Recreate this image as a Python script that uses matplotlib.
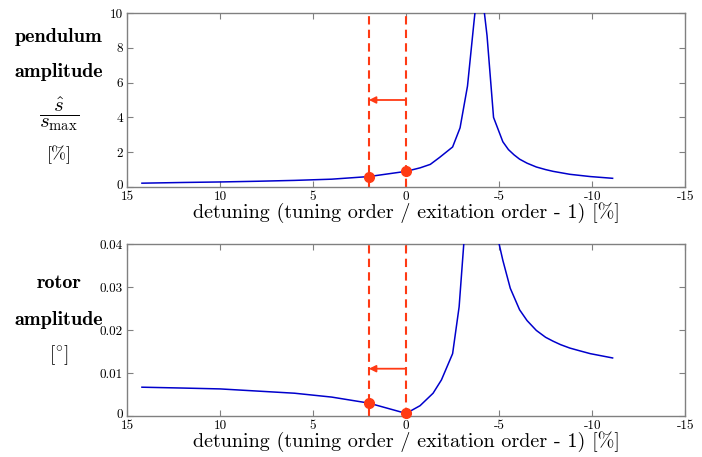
import matplotlib
matplotlib.use("Agg")
import matplotlib.pyplot as plt
from matplotlib.transforms import ScaledTranslation
import numpy as np

plt.rcParams['font.family'] = 'serif'
plt.rcParams['font.serif'] = ['cmr10', 'DejaVu Serif']
plt.rcParams['mathtext.fontset'] = 'cm'
plt.rcParams['axes.unicode_minus'] = False
plt.rcParams['axes.formatter.use_mathtext'] = True

# ---- data ----
pend_x = [14.2, 12, 10, 8, 6, 4, 2, 0, -0.75, -1.3, -1.8, -2.5, -2.9, -3.3,
          -3.65, -3.9, -4.1, -4.35, -4.7, -5.2, -5.5, -5.8, -6.1, -6.5, -7.0,
          -7.5, -7.9, -8.8, -9.9, -11.1]
pend_y = [0.22, 0.26, 0.29, 0.33, 0.38, 0.45, 0.6, 0.9, 1.1, 1.3, 1.7, 2.3, 3.4, 5.8,
          9.5, 12.0, 11.0, 8.7, 4.0, 2.6, 2.15, 1.85, 1.6, 1.37, 1.15,
          1.0, 0.9, 0.73, 0.6, 0.5]

rotor_x = [14.2, 12, 10, 8, 6, 4, 2, 1, 0, -0.75, -1.45, -1.9, -2.5, -2.85, -3.1,
           -3.5, -4.0, -4.5, -5.0, -5.2, -5.6, -6.1, -6.5, -7.0, -7.5, -7.9,
           -8.3, -8.8, -9.3, -9.9, -10.5, -11.1]
rotor_y = [0.0067, 0.0065, 0.0063, 0.0058, 0.0053, 0.0044, 0.0030, 0.0018, 0.0006,
           0.0024, 0.0053, 0.0084, 0.0145, 0.0254, 0.040, 0.07, 0.1, 0.07, 0.040,
           0.0362, 0.0297, 0.0247, 0.0222, 0.0199, 0.0183, 0.0174,
           0.0166, 0.0158, 0.0152, 0.0145, 0.0140, 0.0135]

marker_x = [2, 0]
pend_marker_y = [0.6, 0.9]
rotor_marker_y = [0.0030, 0.0006]
vline_x = [2, 0]
arrow_from, arrow_to = 0, 2
pend_arrow_y = 5.0
rotor_arrow_y = 0.011

xticks = [15, 10, 5, 0, -5, -10, -15]
pend_yticks = [0, 2, 4, 6, 8, 10]
pend_yticklabels = ['0', '2', '4', '6', '8', '10']
rotor_yticks = [0, 0.01, 0.02, 0.03, 0.04]
rotor_yticklabels = ['0', '0.01', '0.02', '0.03', '0.04']
xlabel = 'detuning (tuning order / exitation order - 1) [%]'

RED = '#FF3A14'
BLUE = '#0000CC'
GRAY = '#808080'

fig = plt.figure(figsize=(7.02, 4.57), dpi=100)
ax1 = fig.add_axes([0.181, 0.5908, 0.795, 0.3808])
ax2 = fig.add_axes([0.181, 0.0897, 0.795, 0.3764])

def style(ax, yticks, ylabels, ylim):
    ax.set_xlim(15, -15)
    ax.set_ylim(*ylim)
    ax.set_xticks(xticks)
    ax.set_xticklabels([str(t) for t in xticks])
    ax.set_yticks(yticks)
    ax.set_yticklabels(ylabels)
    for s in ax.spines.values():
        s.set_color(GRAY)
        s.set_linewidth(1.0)
    ax.tick_params(direction='in', top=True, right=True, length=4, width=0.8,
                   color=GRAY, labelsize=9.5)
    ax.tick_params(axis='x', pad=3)
    ax.tick_params(axis='y', pad=3)
    ax.set_xlabel(xlabel, fontsize=14.5, labelpad=-1)
    lab0 = ax.get_yticklabels()[0]
    lab0.set_transform(lab0.get_transform() +
                       ScaledTranslation(0, 1.5 / 72, fig.dpi_scale_trans))

style(ax1, pend_yticks, pend_yticklabels, (0, 10))
style(ax2, rotor_yticks, rotor_yticklabels, (0, 0.04))

for ax, xs, ys, my, ay in [(ax1, pend_x, pend_y, pend_marker_y, pend_arrow_y),
                           (ax2, rotor_x, rotor_y, rotor_marker_y, rotor_arrow_y)]:
    for vx in vline_x:
        ax.axvline(vx, color=RED, lw=1.5, ls=(0, (4, 2.5)), zorder=2)
    ax.plot(xs, ys, color=BLUE, lw=1.1, zorder=3)
    ax.plot(marker_x, my, 'o', color=RED, ms=7, zorder=4, clip_on=False)
    ax.annotate('', xy=(arrow_to, ay), xytext=(arrow_from, ay),
                arrowprops=dict(arrowstyle='-|>', color=RED, lw=1.3,
                                mutation_scale=10, shrinkA=0, shrinkB=0), zorder=4)

# left labels
cx = 0.084
fig.text(cx, 1 - 37/457, 'pendulum', ha='center', va='center', fontsize=14.5,
         family='cmb10')
fig.text(cx, 1 - 72/457, 'amplitude', ha='center', va='center', fontsize=14.5,
         family='cmb10')
fig.text(cx, 1 - 114/457, r'$\dfrac{\hat{s}}{s_{\mathrm{max}}}$', ha='center',
         va='center', fontsize=15)
fig.text(cx, 1 - 155/457, '[%]', ha='center', va='center', fontsize=13)

fig.text(cx, 1 - 283/457, 'rotor', ha='center', va='center', fontsize=14.5,
         family='cmb10')
fig.text(cx, 1 - 320/457, 'amplitude', ha='center', va='center', fontsize=14.5,
         family='cmb10')
fig.text(cx, 1 - 355/457, r'$[{}^{\circ}]$', ha='center', va='center', fontsize=14)

fig.savefig('out.png', dpi=100)
